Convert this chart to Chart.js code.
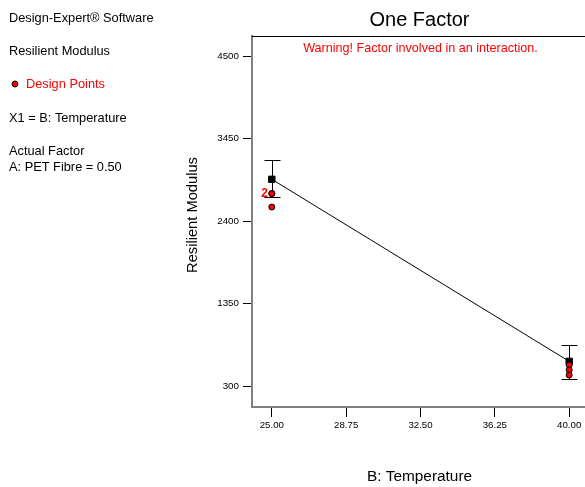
<!DOCTYPE html>
<html>
<head>
<meta charset="utf-8">
<title>One Factor</title>
<script src="https://cdn.jsdelivr.net/npm/chart.js@4.4.1/dist/chart.umd.min.js"></script>
<style>
    html, body { margin: 0; padding: 0; background: #fff; overflow: hidden; }
    #grafica { position: absolute; left: 0; top: 0; }
</style>
</head>
<body>
<canvas id="grafica" width="600" height="487"></canvas>
<script>
// datos
const tempLevels = [25, 40];
const meanValues = [2931, 614];
const lowerLimits = [2705, 385];
const upperLimits = [3173, 818];
const pointTemps = [25, 25, 25, 40, 40, 40];
const pointValues = [2749, 2749, 2578, 567, 504, 440];
const xTicks = [25, 28.75, 32.5, 36.25, 40];
const yTicks = [300, 1350, 2400, 3450, 4500];

const fuente = "'Liberation Sans', Arial, sans-serif";

// barras de error + textos
const extras = {
    id: 'extras',
    beforeDatasetsDraw(chart) {
        const ctx = chart.ctx;
        const x = chart.scales.x;
        const y = chart.scales.y;
        ctx.save();
        ctx.strokeStyle = '#000';
        ctx.lineWidth = 1;
        tempLevels.forEach((t, i) => {
            const px = Math.round(x.getPixelForValue(t)) + 0.5;
            const top = Math.round(y.getPixelForValue(upperLimits[i])) + 0.5;
            const bot = Math.round(y.getPixelForValue(lowerLimits[i])) + 0.5;
            ctx.beginPath();
            ctx.moveTo(px, top); ctx.lineTo(px, bot);
            ctx.moveTo(px - 8, top); ctx.lineTo(px + 8, top);
            ctx.moveTo(px - 8, bot); ctx.lineTo(px + 8, bot);
            ctx.stroke();
        });
        ctx.restore();
    },
    afterDraw(chart) {
        const ctx = chart.ctx;
        const area = chart.chartArea;
        const x = chart.scales.x;
        const y = chart.scales.y;
        const cx = (area.left + area.right) / 2;
        ctx.save();

        // marco superior
        ctx.strokeStyle = '#000';
        ctx.lineWidth = 1;
        ctx.beginPath();
        ctx.moveTo(area.left, Math.round(area.top) + 0.5);
        ctx.lineTo(area.right, Math.round(area.top) + 0.5);
        ctx.stroke();

        ctx.textBaseline = 'middle';
        ctx.textAlign = 'center';
        ctx.fillStyle = '#000';
        ctx.font = '20px ' + fuente;
        ctx.fillText('One Factor', cx - 1, 20);

        ctx.fillStyle = '#ff0000';
        ctx.font = '12.6px ' + fuente;
        ctx.fillText('Warning! Factor involved in an interaction.', cx, 49);

        ctx.fillStyle = '#000';
        ctx.font = '15.4px ' + fuente;
        ctx.fillText('B: Temperature', cx - 1, 477);

        ctx.save();
        ctx.font = '14.7px ' + fuente;
        ctx.translate(area.left - 59, 215);
        ctx.rotate(-Math.PI / 2);
        ctx.fillText('Resilient Modulus', 0, 0);
        ctx.restore();

        // etiqueta de puntos repetidos
        ctx.fillStyle = '#ff0000';
        ctx.font = 'bold 12px ' + fuente;
        ctx.textAlign = 'right';
        ctx.fillText('2', x.getPixelForValue(pointTemps[0]) - 4, y.getPixelForValue(pointValues[0]));

        // panel izquierdo
        ctx.textAlign = 'left';
        ctx.font = '12.8px ' + fuente;
        ctx.fillStyle = '#000';
        ctx.fillText('Design-Expert® Software', 9, 18);
        ctx.fillText('Resilient Modulus', 9, 51);
        ctx.fillText('X1 = B: Temperature', 9, 118);
        ctx.fillText('Actual Factor', 9, 151);
        ctx.fillText('A: PET Fibre = 0.50', 9, 167);
        ctx.fillStyle = '#ff0000';
        ctx.fillText('Design Points', 26, 84);
        ctx.beginPath();
        ctx.arc(15, 84, 3, 0, Math.PI * 2);
        ctx.fill();
        ctx.strokeStyle = '#000';
        ctx.stroke();
        ctx.restore();
    }
};

const ctx = document.getElementById('grafica').getContext('2d');
new Chart(ctx, {
    type: 'scatter',
    data: {
        datasets: [
            {
                label: 'Design Points',
                data: pointTemps.map((t, i) => ({ x: t, y: pointValues[i] })),
                pointRadius: 3,
                pointBackgroundColor: '#ff0000',
                pointBorderColor: '#000',
                pointBorderWidth: 1,
                showLine: false
            },
            {
                label: 'Prediction',
                data: tempLevels.map((t, i) => ({ x: t, y: meanValues[i] })),
                showLine: true,
                borderColor: '#000',
                borderWidth: 1,
                pointStyle: 'rect',
                pointRadius: 4.5,
                pointBackgroundColor: '#000',
                pointBorderColor: '#000'
            }
        ]
    },
    options: {
        responsive: false,
        animation: false,
        devicePixelRatio: 1,
        layout: { padding: { left: 0, top: 36, right: 11, bottom: 0 } },
        plugins: {
            legend: { display: false },
            tooltip: { enabled: false },
            title: { display: false }
        },
        scales: {
            x: {
                type: 'linear',
                min: 24,
                max: 41,
                afterFit: scale => { scale.height = 80; },
                afterBuildTicks: scale => { scale.ticks = xTicks.map(v => ({ value: v })); },
                ticks: {
                    font: { family: fuente, size: 9.7 },
                    color: '#000',
                    padding: 3,
                    maxRotation: 0,
                    callback: v => v.toFixed(2)
                },
                grid: { drawOnChartArea: false, drawTicks: true, tickLength: 10, color: '#000' },
                border: { display: true, color: '#808080', width: 2 }
            },
            y: {
                min: 33,
                max: 4755,
                afterFit: scale => { scale.width = 252; },
                afterBuildTicks: scale => { scale.ticks = yTicks.map(v => ({ value: v })); },
                ticks: {
                    font: { family: fuente, size: 9.8 },
                    color: '#000',
                    padding: 4,
                    callback: v => String(v)
                },
                grid: { drawOnChartArea: false, drawTicks: true, tickLength: 9, color: '#000' },
                border: { display: true, color: '#808080', width: 2 }
            }
        }
    },
    plugins: [extras]
});
</script>
</body>
</html>
